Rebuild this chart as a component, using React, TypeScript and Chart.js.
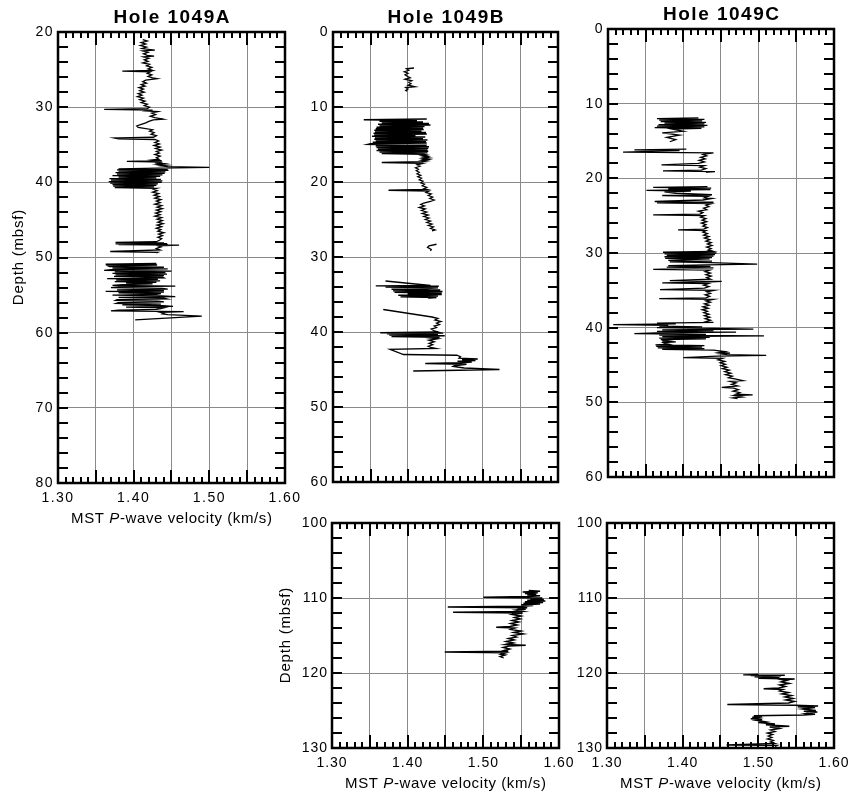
import React, { useEffect, useRef } from 'react';
import { Chart, registerables } from 'chart.js';

Chart.register(...registerables);

// Each row is [depth (mbsf), MST P-wave velocity (km/s)]; null marks a gap between cores.
type Row = [number, number] | null;

const hole1049A: Row[] = [
  [21.0, 1.412], [21.2, 1.418], [21.4, 1.410], [21.6, 1.416], [21.8, 1.409], [22.0, 1.417], [22.2, 1.411],
  [22.4, 1.428], [22.5, 1.412], [22.7, 1.419], [22.9, 1.413], [23.1, 1.418], [23.2, 1.427], [23.3, 1.413],
  [23.5, 1.420], [23.7, 1.414], [23.9, 1.419], [24.1, 1.412], [24.3, 1.421], [24.5, 1.417], [24.7, 1.424],
  [24.9, 1.419], [25.1, 1.425], [25.2, 1.385], [25.3, 1.422], [25.5, 1.418], [25.7, 1.424], [25.9, 1.419],
  [26.1, 1.425], [26.2, 1.431], [26.4, 1.416], [26.6, 1.412], [26.8, 1.417], [27.0, 1.410], [27.2, 1.415],
  [27.4, 1.407], [27.6, 1.413], [27.8, 1.408], [28.0, 1.414], [28.2, 1.406], [28.4, 1.411], [28.6, 1.405],
  [28.8, 1.413], [29.0, 1.408], [29.2, 1.415], [29.4, 1.410], [29.6, 1.418], [29.8, 1.414], [30.0, 1.421],
  [30.2, 1.418], [30.3, 1.361], [30.4, 1.425], [30.5, 1.418], [30.6, 1.432], [30.8, 1.424], [31.0, 1.429],
  [31.2, 1.422], [31.4, 1.428], [31.6, 1.439], [31.7, 1.426], [31.9, 1.420], [32.1, 1.416], [32.3, 1.410],
  [32.5, 1.404], [32.7, 1.406], [32.8, 1.412], [33.0, 1.425], [33.2, 1.421], [33.4, 1.427], [33.6, 1.423],
  [33.8, 1.430], [34.0, 1.426], [34.1, 1.375], [34.2, 1.380], [34.3, 1.428], [34.5, 1.433], [34.7, 1.428],
  [34.9, 1.434], [35.1, 1.427], [35.3, 1.435], [35.5, 1.429], [35.7, 1.437], [35.9, 1.430], [36.1, 1.434],
  [36.3, 1.428], [36.5, 1.435], [36.7, 1.430], [36.9, 1.433], [37.0, 1.425], [37.1, 1.437], [37.2, 1.391],
  [37.3, 1.438], [37.4, 1.428], [37.5, 1.440], [37.6, 1.432], [37.7, 1.444], [37.8, 1.436], [37.9, 1.445],
  [38.0, 1.500], [38.1, 1.432], [38.2, 1.380], [38.3, 1.445], [38.35, 1.378], [38.4, 1.446], [38.5, 1.380],
  [38.6, 1.442], [38.7, 1.376], [38.8, 1.441], [38.9, 1.378], [39.0, 1.438], [39.1, 1.372], [39.2, 1.435],
  [39.3, 1.380], [39.4, 1.430], [39.5, 1.368], [39.6, 1.436], [39.7, 1.370], [39.8, 1.438], [39.9, 1.367],
  [40.0, 1.437], [40.1, 1.369], [40.2, 1.432], [40.3, 1.372], [40.4, 1.430], [40.5, 1.373], [40.6, 1.427],
  [40.7, 1.375], [40.8, 1.430], [40.9, 1.426], [41.1, 1.431], [41.3, 1.425], [41.5, 1.433], [41.7, 1.427],
  [41.9, 1.434], [42.1, 1.428], [42.3, 1.436], [42.5, 1.430], [42.7, 1.435], [42.9, 1.428], [43.1, 1.437],
  [43.3, 1.431], [43.5, 1.438], [43.7, 1.430], [43.9, 1.436], [44.1, 1.429], [44.3, 1.435], [44.5, 1.428],
  [44.7, 1.437], [44.9, 1.431], [45.1, 1.438], [45.3, 1.432], [45.5, 1.439], [45.7, 1.431], [45.9, 1.437],
  [46.1, 1.430], [46.3, 1.436], [46.5, 1.432], [46.7, 1.440], [46.9, 1.433], [47.1, 1.438], [47.3, 1.432],
  [47.5, 1.437], [47.7, 1.434], [47.9, 1.430], [48.0, 1.376], [48.05, 1.440], [48.1, 1.378], [48.15, 1.444],
  [48.2, 1.376], [48.25, 1.445], [48.3, 1.380], [48.35, 1.460], [48.45, 1.432], [48.6, 1.436], [48.8, 1.430],
  [49.0, 1.435], [49.2, 1.369], [49.3, 1.432], [49.4, 1.430],
  null,
  [50.8, 1.430], [50.9, 1.363], [51.0, 1.431], [51.1, 1.366], [51.2, 1.368], [51.3, 1.440], [51.4, 1.372],
  [51.5, 1.445], [51.6, 1.370], [51.7, 1.361], [51.8, 1.450], [51.9, 1.375], [52.0, 1.442], [52.1, 1.372],
  [52.2, 1.444], [52.3, 1.376], [52.4, 1.440], [52.5, 1.374], [52.6, 1.438], [52.7, 1.440], [52.8, 1.365],
  [52.9, 1.432], [53.0, 1.377], [53.1, 1.435], [53.2, 1.375], [53.3, 1.430], [53.4, 1.390], [53.5, 1.425],
  [53.6, 1.385], [53.7, 1.372], [53.8, 1.455], [53.9, 1.380], [54.0, 1.370], [54.1, 1.438], [54.2, 1.445],
  [54.3, 1.378], [54.4, 1.440], [54.5, 1.363], [54.6, 1.440], [54.7, 1.380], [54.8, 1.436], [54.9, 1.430],
  [55.0, 1.372], [55.1, 1.437], [55.2, 1.455], [55.3, 1.380], [55.4, 1.440], [55.5, 1.444], [55.6, 1.378],
  [55.7, 1.376], [55.8, 1.432], [55.9, 1.440], [56.0, 1.380], [56.1, 1.377], [56.2, 1.436], [56.3, 1.385],
  [56.4, 1.438], [56.5, 1.452], [56.6, 1.390], [56.7, 1.440], [56.8, 1.436], [56.9, 1.430], [57.0, 1.380],
  [57.1, 1.370], [57.2, 1.466], [57.3, 1.436], [57.4, 1.440], [57.5, 1.438], [57.6, 1.445], [57.8, 1.490],
  [58.3, 1.402],
];

const hole1049B_upper: Row[] = [
  [4.8, 1.408], [4.9, 1.398], [5.1, 1.401], [5.3, 1.395], [5.5, 1.400], [5.7, 1.396], [5.9, 1.399],
  [6.1, 1.403], [6.3, 1.396], [6.5, 1.405], [6.7, 1.401], [6.9, 1.404], [7.1, 1.400], [7.3, 1.409],
  [7.4, 1.397], [7.6, 1.400], [7.8, 1.397], [7.9, 1.399],
  null,
  [11.6, 1.425], [11.7, 1.341], [11.8, 1.412], [11.9, 1.362], [12.0, 1.420], [12.1, 1.365], [12.2, 1.428],
  [12.3, 1.360], [12.4, 1.430], [12.5, 1.362], [12.6, 1.422], [12.7, 1.358], [12.8, 1.420], [12.9, 1.357],
  [13.0, 1.421], [13.1, 1.355], [13.2, 1.418], [13.3, 1.356], [13.4, 1.424], [13.5, 1.354], [13.6, 1.425],
  [13.7, 1.355], [13.8, 1.410], [13.9, 1.352], [14.0, 1.423], [14.1, 1.356], [14.2, 1.420], [14.3, 1.355],
  [14.4, 1.426], [14.5, 1.357], [14.6, 1.424], [14.7, 1.353], [14.8, 1.425], [14.9, 1.350], [15.0, 1.346],
  [15.1, 1.425], [15.2, 1.357], [15.3, 1.428], [15.4, 1.358], [15.5, 1.427], [15.6, 1.360], [15.7, 1.426],
  [15.8, 1.358], [15.9, 1.427], [16.0, 1.362], [16.1, 1.426], [16.2, 1.365], [16.3, 1.420], [16.4, 1.425],
  [16.5, 1.419], [16.6, 1.426], [16.7, 1.421], [16.8, 1.428], [16.9, 1.420], [17.0, 1.427], [17.1, 1.419],
  [17.2, 1.425], [17.3, 1.418], [17.4, 1.365], [17.5, 1.420], [17.7, 1.412], [17.9, 1.416], [18.1, 1.410],
  [18.3, 1.414], [18.5, 1.411], [18.7, 1.415], [18.9, 1.412], [19.1, 1.417], [19.3, 1.413], [19.5, 1.418],
  [19.7, 1.415], [19.9, 1.420], [20.1, 1.417], [20.3, 1.422], [20.5, 1.419], [20.7, 1.425], [20.9, 1.421],
  [21.0, 1.425], [21.1, 1.374], [21.2, 1.428], [21.4, 1.424], [21.6, 1.431], [21.8, 1.427], [22.0, 1.433],
  [22.2, 1.429], [22.4, 1.435], [22.6, 1.430], [22.8, 1.421], [23.0, 1.417], [23.2, 1.422], [23.4, 1.415],
  [23.6, 1.423], [23.8, 1.418], [24.0, 1.425], [24.2, 1.419], [24.4, 1.427], [24.6, 1.421], [24.8, 1.428],
  [25.0, 1.423], [25.2, 1.430], [25.4, 1.425], [25.6, 1.432], [25.8, 1.427], [26.0, 1.434], [26.2, 1.430],
  [26.4, 1.436], [26.5, 1.432],
  null,
  [28.3, 1.438], [28.5, 1.428], [28.7, 1.426], [29.0, 1.431], [29.2, 1.430],
  null,
  [33.2, 1.370], [33.8, 1.430], [33.85, 1.357], [33.9, 1.441], [34.0, 1.370], [34.1, 1.440], [34.2, 1.425],
  [34.3, 1.378], [34.4, 1.443], [34.5, 1.380], [34.6, 1.446], [34.7, 1.382], [34.8, 1.445], [34.9, 1.400],
  [35.0, 1.445], [35.1, 1.387], [35.2, 1.440], [35.3, 1.390], [35.4, 1.438], [35.5, 1.427],
  null,
  [37.0, 1.367], [38.0, 1.432], [38.2, 1.440], [38.4, 1.436], [38.6, 1.444], [38.8, 1.438], [39.0, 1.442],
  [39.2, 1.435], [39.4, 1.438], [39.6, 1.431], [39.8, 1.434], [40.0, 1.440], [40.1, 1.363], [40.15, 1.447],
  [40.25, 1.372], [40.3, 1.440], [40.4, 1.375], [40.5, 1.449], [40.6, 1.378], [40.7, 1.442], [40.8, 1.431],
  [40.9, 1.440], [41.1, 1.428], [41.3, 1.435], [41.5, 1.428], [41.7, 1.433], [41.9, 1.427], [42.1, 1.432],
  [42.2, 1.437], [42.3, 1.376], [43.0, 1.394], [43.1, 1.465], [43.3, 1.470], [43.5, 1.468], [43.6, 1.493],
  [43.7, 1.472], [43.8, 1.490], [43.9, 1.466], [44.0, 1.485], [44.1, 1.470], [44.2, 1.423], [44.3, 1.478],
  [44.5, 1.462], [44.6, 1.460], [44.8, 1.475], [45.0, 1.522], [45.1, 1.468], [45.2, 1.407],
];

const hole1049C_upper: Row[] = [
  [11.9, 1.420], [12.0, 1.365], [12.1, 1.428], [12.2, 1.368], [12.3, 1.425], [12.4, 1.370], [12.5, 1.430],
  [12.6, 1.375], [12.7, 1.428], [12.8, 1.367], [12.9, 1.432], [13.0, 1.365], [13.1, 1.428], [13.2, 1.362],
  [13.3, 1.424], [13.4, 1.385], [13.7, 1.400], [13.9, 1.372], [14.2, 1.395], [14.5, 1.378], [14.8, 1.390],
  [15.1, 1.382],
  null,
  [16.1, 1.404], [16.2, 1.335], [16.3, 1.395], [16.5, 1.320], [16.6, 1.440], [16.8, 1.426], [17.0, 1.431],
  [17.2, 1.423], [17.4, 1.429], [17.6, 1.421], [17.8, 1.428], [18.0, 1.420], [18.2, 1.371], [18.3, 1.428],
  [18.5, 1.422], [18.7, 1.430], [18.9, 1.424], [19.0, 1.373], [19.1, 1.442], [19.2, 1.430],
  null,
  [21.1, 1.432], [21.2, 1.360], [21.3, 1.437], [21.4, 1.380], [21.5, 1.436], [21.6, 1.351], [21.7, 1.410],
  [21.8, 1.375], [22.0, 1.390], [22.2, 1.438], [22.3, 1.372], [22.4, 1.433], [22.6, 1.428], [22.7, 1.438],
  [22.9, 1.426], [23.1, 1.362], [23.2, 1.440], [23.3, 1.365], [23.4, 1.437], [23.6, 1.430], [23.8, 1.434],
  [24.0, 1.427], [24.2, 1.431], [24.4, 1.420], [24.6, 1.426], [24.8, 1.422], [24.9, 1.360], [25.0, 1.428],
  [25.2, 1.423], [25.4, 1.430], [25.6, 1.425], [25.8, 1.431], [26.0, 1.424], [26.2, 1.430], [26.4, 1.426],
  [26.6, 1.432], [26.8, 1.427], [26.9, 1.393], [27.0, 1.430], [27.2, 1.426], [27.4, 1.432], [27.6, 1.427],
  [27.8, 1.434], [28.0, 1.428], [28.2, 1.435], [28.4, 1.430], [28.6, 1.437], [28.8, 1.432], [29.0, 1.438],
  [29.2, 1.431], [29.4, 1.437], [29.6, 1.433], [29.8, 1.440], [29.9, 1.373], [30.0, 1.444], [30.1, 1.375],
  [30.2, 1.442], [30.3, 1.378], [30.4, 1.440], [30.5, 1.375], [30.6, 1.438], [30.7, 1.376], [30.8, 1.435],
  [31.0, 1.380], [31.1, 1.438], [31.2, 1.382], [31.3, 1.436], [31.5, 1.498], [31.6, 1.430], [31.7, 1.380],
  [31.8, 1.436], [31.9, 1.378], [32.0, 1.440], [32.2, 1.360], [32.3, 1.435], [32.5, 1.429], [32.7, 1.436],
  [32.9, 1.430], [33.1, 1.437], [33.3, 1.431], [33.5, 1.436], [33.7, 1.382], [33.8, 1.451], [33.9, 1.430],
  [34.0, 1.372], [34.1, 1.433], [34.3, 1.427], [34.5, 1.434], [34.7, 1.428], [34.9, 1.369], [35.0, 1.441],
  [35.2, 1.431], [35.4, 1.436], [35.6, 1.429], [35.8, 1.435], [36.0, 1.430], [36.1, 1.368], [36.2, 1.440],
  [36.4, 1.430], [36.6, 1.436], [36.8, 1.428], [37.0, 1.434], [37.2, 1.426], [37.4, 1.433], [37.6, 1.425],
  [37.8, 1.432], [38.0, 1.427], [38.2, 1.434], [38.4, 1.428], [38.6, 1.435], [38.8, 1.429], [39.0, 1.436],
  [39.2, 1.430], [39.3, 1.440], [39.4, 1.365], [39.5, 1.390], [39.6, 1.307], [39.7, 1.380], [39.8, 1.368],
  [39.9, 1.425], [40.0, 1.365], [40.1, 1.440], [40.2, 1.493], [40.3, 1.372], [40.4, 1.440], [40.5, 1.365],
  [40.6, 1.470], [40.7, 1.364], [40.8, 1.335], [40.9, 1.430], [41.0, 1.368], [41.1, 1.507], [41.2, 1.372],
  [41.3, 1.435], [41.4, 1.368], [41.5, 1.430], [41.6, 1.370], [41.7, 1.380], [41.8, 1.372], [41.9, 1.390],
  [42.0, 1.373], [42.1, 1.375], [42.2, 1.380], [42.3, 1.363], [42.4, 1.428], [42.5, 1.364], [42.6, 1.425],
  [42.7, 1.366], [42.8, 1.428], [42.9, 1.372], [43.0, 1.440], [43.1, 1.448], [43.2, 1.455], [43.3, 1.448],
  [43.4, 1.462], [43.5, 1.450], [43.6, 1.458], [43.7, 1.510], [43.8, 1.445], [44.0, 1.400], [44.1, 1.452],
  [44.3, 1.446], [44.5, 1.455], [44.7, 1.449], [44.9, 1.456], [45.1, 1.450], [45.3, 1.458], [45.5, 1.452],
  [45.7, 1.461], [45.9, 1.455], [46.1, 1.463], [46.3, 1.456], [46.5, 1.465], [46.7, 1.460], [46.9, 1.470],
  [47.1, 1.479], [47.2, 1.462], [47.4, 1.470], [47.6, 1.464], [47.8, 1.472], [48.0, 1.451], [48.1, 1.467],
  [48.3, 1.473], [48.5, 1.466], [48.7, 1.475], [48.9, 1.470], [49.0, 1.492], [49.1, 1.468], [49.3, 1.478],
  [49.4, 1.466], [49.5, 1.472],
];

const hole1049B_lower: Row[] = [
  [109.0, 1.560], [109.1, 1.575], [109.2, 1.552], [109.3, 1.572], [109.4, 1.555], [109.5, 1.570],
  [109.6, 1.558], [109.7, 1.575], [109.8, 1.560], [109.9, 1.500], [110.0, 1.578], [110.1, 1.562],
  [110.2, 1.580], [110.3, 1.558], [110.4, 1.582], [110.5, 1.555], [110.6, 1.579], [110.7, 1.553],
  [110.8, 1.575], [110.9, 1.550], [111.0, 1.566], [111.1, 1.552], [111.2, 1.453], [111.3, 1.558],
  [111.4, 1.545], [111.5, 1.556], [111.6, 1.543], [111.8, 1.553], [111.9, 1.460], [112.0, 1.552],
  [112.2, 1.538], [112.4, 1.550], [112.6, 1.541], [112.8, 1.549], [113.0, 1.538], [113.2, 1.547],
  [113.4, 1.536], [113.6, 1.545], [113.8, 1.535], [113.9, 1.517], [114.0, 1.542], [114.2, 1.536],
  [114.4, 1.550], [114.6, 1.540], [114.8, 1.553], [115.0, 1.538], [115.2, 1.544], [115.4, 1.533],
  [115.6, 1.541], [115.8, 1.530], [116.0, 1.540], [116.2, 1.529], [116.3, 1.556], [116.4, 1.534],
  [116.6, 1.526], [116.8, 1.535], [117.0, 1.527], [117.1, 1.533], [117.2, 1.449], [117.3, 1.530],
  [117.5, 1.523], [117.6, 1.529], [117.8, 1.522], [118.0, 1.527],
];

const hole1049C_lower: Row[] = [
  [120.2, 1.500], [120.25, 1.480], [120.3, 1.535], [120.35, 1.490], [120.4, 1.530], [120.5, 1.495],
  [120.6, 1.528], [120.7, 1.500], [120.8, 1.548], [120.9, 1.532], [121.0, 1.538], [121.2, 1.530],
  [121.4, 1.541], [121.6, 1.528], [121.8, 1.536], [122.0, 1.527], [122.1, 1.507], [122.2, 1.533],
  [122.4, 1.528], [122.6, 1.540], [122.8, 1.531], [123.0, 1.544], [123.2, 1.535], [123.4, 1.546],
  [123.6, 1.536], [123.8, 1.548], [124.0, 1.540], [124.2, 1.459], [124.3, 1.548], [124.4, 1.579],
  [124.5, 1.552], [124.6, 1.575], [124.8, 1.558], [125.0, 1.576], [125.1, 1.560], [125.2, 1.578],
  [125.4, 1.563], [125.5, 1.575], [125.6, 1.560], [125.7, 1.494], [125.8, 1.505], [125.9, 1.492],
  [126.0, 1.500], [126.1, 1.490], [126.2, 1.505], [126.3, 1.497], [126.5, 1.510], [126.6, 1.500],
  [126.8, 1.522], [126.9, 1.510], [127.0, 1.525], [127.1, 1.541], [127.2, 1.515], [127.4, 1.528],
  [127.6, 1.516], [127.8, 1.522], [128.0, 1.512], [128.2, 1.519], [128.4, 1.513], [128.6, 1.518],
  [128.8, 1.512], [129.0, 1.520], [129.2, 1.516], [129.4, 1.522], [129.6, 1.458], [129.65, 1.525],
  [129.8, 1.522],
];

// Axis ticks and labels
const velocityGrid = [1.3, 1.35, 1.4, 1.45, 1.5, 1.55, 1.6];
const velocityLabelValues = [1.3, 1.4, 1.5, 1.6];
const velocityLabelText = ['1.30', '1.40', '1.50', '1.60'];
const depthTicks1049A = [20, 30, 40, 50, 60, 70, 80];
const depthTicksUpper = [0, 10, 20, 30, 40, 50, 60];
const depthTicksLower = [100, 110, 120, 130];

const holeTitles = ['Hole 1049A', 'Hole 1049B', 'Hole 1049C'];
const depthTitle = 'Depth (mbsf)';
const velocityTitle = [
  { text: 'MST ', italic: false },
  { text: 'P', italic: true },
  { text: '-wave velocity (km/s)', italic: false },
];

const FONT = '"Liberation Sans", Arial, Helvetica, sans-serif';
const CANVAS_W = 880;
const CANVAS_H = 798;
const AXIS_BOX = 40;

interface PanelSpec {
  rows: Row[];
  left: number;
  top: number;
  right: number;
  bottom: number;
  depthMin: number;
  depthMax: number;
  depthTicks: number[];
  title?: string;
  titleY?: number;
  showVelocityLabels: boolean;
  velocityTitleY?: number;
  depthTitleX?: number;
  tickSpacing: number;
}

const panels: PanelSpec[] = [
  {
    rows: hole1049A, left: 58, top: 32, right: 285, bottom: 483, depthMin: 20, depthMax: 80,
    depthTicks: depthTicks1049A, title: holeTitles[0], titleY: 18, showVelocityLabels: true,
    velocityTitleY: 519, depthTitleX: 18.5, tickSpacing: 1.5,
  },
  {
    rows: hole1049B_upper, left: 333, top: 32, right: 558, bottom: 482, depthMin: 0, depthMax: 60,
    depthTicks: depthTicksUpper, title: holeTitles[1], titleY: 18, showVelocityLabels: false, tickSpacing: 1.5,
  },
  {
    rows: hole1049C_upper, left: 608, top: 29, right: 834, bottom: 477, depthMin: 0, depthMax: 60,
    depthTicks: depthTicksUpper, title: holeTitles[2], titleY: 15, showVelocityLabels: false, tickSpacing: 1.5,
  },
  {
    rows: hole1049B_lower, left: 332, top: 523, right: 559, bottom: 748, depthMin: 100, depthMax: 130,
    depthTicks: depthTicksLower, showVelocityLabels: true, velocityTitleY: 784, depthTitleX: 286, tickSpacing: 1,
  },
  {
    rows: hole1049C_lower, left: 607, top: 523, right: 834, bottom: 748, depthMin: 100, depthMax: 130,
    depthTicks: depthTicksLower, showVelocityLabels: true, velocityTitleY: 784, tickSpacing: 1,
  },
];

function splitCores(rows: Row[]) {
  const cores: { x: number; y: number }[][] = [];
  let current: { x: number; y: number }[] = [];
  for (const r of rows) {
    if (r === null) {
      if (current.length) cores.push(current);
      current = [];
    } else {
      current.push({ x: r[1], y: r[0] });
    }
  }
  if (current.length) cores.push(current);
  return cores;
}

function velocityLabel(value: number) {
  const i = velocityLabelValues.findIndex((v) => Math.abs(v - value) < 1e-6);
  return i >= 0 ? velocityLabelText[i] : '';
}

function drawSpaced(ctx: CanvasRenderingContext2D, text: string, cx: number, cy: number, font: string, spacing: number) {
  ctx.font = font;
  (ctx as any).letterSpacing = `${spacing}px`;
  ctx.textAlign = 'left';
  ctx.textBaseline = 'middle';
  const w = ctx.measureText(text).width;
  ctx.fillText(text, cx - (w - spacing) / 2, cy);
}

function framePlugin(spec: PanelSpec) {
  return {
    id: 'coreFrame',
    beforeDraw(chart: any) {
      chart.ctx.letterSpacing = `${spec.tickSpacing}px`;
    },
    afterDraw(chart: any) {
      const ctx: CanvasRenderingContext2D = chart.ctx;
      const a = chart.chartArea;
      const xs = chart.scales.x;
      const ys = chart.scales.y;
      ctx.save();
      (ctx as any).letterSpacing = '0px';
      ctx.strokeStyle = '#000';
      ctx.fillStyle = '#000';
      ctx.lineCap = 'butt';

      // depth tick marks every 2 m on both sides, pointing inward
      ctx.lineWidth = 2;
      ctx.beginPath();
      for (let d = spec.depthMin + 2; d < spec.depthMax; d += 2) {
        const y = Math.round(ys.getPixelForValue(d));
        ctx.moveTo(a.left, y);
        ctx.lineTo(a.left + 10, y);
        ctx.moveTo(a.right, y);
        ctx.lineTo(a.right - 10, y);
      }
      ctx.stroke();

      // velocity tick marks every 0.01 km/s along top and bottom
      ctx.beginPath();
      for (let i = 1; i < 30; i++) {
        const x = Math.round(xs.getPixelForValue(1.3 + i * 0.01));
        const len = i % 5 === 0 ? 13 : 6;
        ctx.moveTo(x, a.top);
        ctx.lineTo(x, a.top + len);
        ctx.moveTo(x, a.bottom);
        ctx.lineTo(x, a.bottom - len);
      }
      ctx.stroke();

      ctx.lineWidth = 2.5;
      ctx.strokeRect(a.left, a.top, a.right - a.left, a.bottom - a.top);

      const cx = (a.left + a.right) / 2;
      if (spec.title && spec.titleY !== undefined) {
        drawSpaced(ctx, spec.title, cx, spec.titleY, `bold 19px ${FONT}`, 1.5);
      }

      if (spec.velocityTitleY !== undefined) {
        const spacing = 0.6;
        (ctx as any).letterSpacing = `${spacing}px`;
        ctx.textBaseline = 'middle';
        ctx.textAlign = 'left';
        const widths = velocityTitle.map((p) => {
          ctx.font = `${p.italic ? 'italic ' : ''}15px ${FONT}`;
          return ctx.measureText(p.text).width;
        });
        const total = widths.reduce((s, w) => s + w, 0) - spacing;
        let x = cx - total / 2;
        velocityTitle.forEach((p, i) => {
          ctx.font = `${p.italic ? 'italic ' : ''}15px ${FONT}`;
          ctx.fillText(p.text, x, spec.velocityTitleY as number);
          x += widths[i];
        });
      }

      if (spec.depthTitleX !== undefined) {
        ctx.save();
        ctx.translate(spec.depthTitleX, (a.top + a.bottom) / 2);
        ctx.rotate(-Math.PI / 2);
        drawSpaced(ctx, depthTitle, 0, 0, `15px ${FONT}`, 0.8);
        ctx.restore();
      }

      ctx.restore();
      (ctx as any).letterSpacing = '0px';
    },
  };
}

function buildConfig(spec: PanelSpec): any {
  const datasets = splitCores(spec.rows).map((pts) => ({
    data: pts,
    showLine: true,
    borderColor: '#000',
    borderWidth: 1.3,
    pointRadius: 0,
    pointHoverRadius: 0,
    fill: false,
    tension: 0,
  }));
  const tickFont = { family: FONT, size: 14 };
  return {
    type: 'scatter',
    data: { datasets },
    options: {
      responsive: false,
      animation: false,
      events: [],
      layout: {
        padding: {
          left: spec.left - AXIS_BOX,
          top: spec.top,
          right: CANVAS_W - spec.right,
          bottom: CANVAS_H - spec.bottom - AXIS_BOX,
        },
      },
      plugins: {
        legend: { display: false },
        tooltip: { enabled: false },
        title: { display: false },
      },
      scales: {
        x: {
          type: 'linear',
          position: 'bottom',
          min: 1.3,
          max: 1.6,
          border: { display: false },
          grid: { color: '#8a8a8a', lineWidth: 1, drawTicks: false },
          afterBuildTicks: (scale: any) => {
            scale.ticks = velocityGrid.map((value) => ({ value }));
          },
          ticks: {
            display: spec.showVelocityLabels,
            autoSkip: false,
            maxRotation: 0,
            minRotation: 0,
            padding: 7,
            color: '#000',
            font: tickFont,
            callback: (v: number) => velocityLabel(v),
          },
          afterFit: (scale: any) => {
            scale.height = AXIS_BOX;
          },
        },
        y: {
          type: 'linear',
          position: 'left',
          reverse: true,
          min: spec.depthMin,
          max: spec.depthMax,
          border: { display: false },
          grid: { color: '#8a8a8a', lineWidth: 1, drawTicks: false },
          afterBuildTicks: (scale: any) => {
            scale.ticks = spec.depthTicks.map((value) => ({ value }));
          },
          ticks: {
            padding: 4,
            color: '#000',
            font: tickFont,
            callback: (v: number) => String(v),
          },
          afterFit: (scale: any) => {
            scale.width = AXIS_BOX;
          },
        },
      },
    },
    plugins: [framePlugin(spec)],
  };
}

function CorePanel({ spec }: { spec: PanelSpec }) {
  const ref = useRef<HTMLCanvasElement>(null);
  useEffect(() => {
    if (!ref.current) return;
    const chart = new Chart(ref.current, buildConfig(spec));
    return () => chart.destroy();
  }, [spec]);
  return (
    <canvas
      ref={ref}
      width={CANVAS_W}
      height={CANVAS_H}
      style={{ position: 'absolute', left: 0, top: 0, width: CANVAS_W, height: CANVAS_H }}
    />
  );
}

export default function App() {
  return (
    <div
      style={{
        position: 'absolute',
        left: 0,
        top: 0,
        width: 848,
        height: 798,
        overflow: 'hidden',
        background: '#fff',
      }}
    >
      {panels.map((p, i) => (
        <CorePanel key={i} spec={p} />
      ))}
    </div>
  );
}
